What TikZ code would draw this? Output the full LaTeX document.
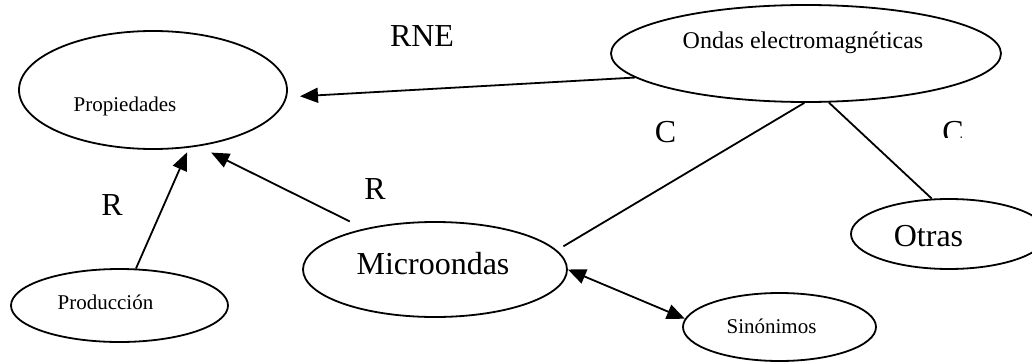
\documentclass[tikz,border=0pt]{standalone}
\usepackage{fontspec}
\setmainfont{Liberation Serif}
\usetikzlibrary{shapes.geometric}
\usetikzlibrary{arrows.meta}

\begin{document}
\begin{tikzpicture}[x=1pt, y=-1pt,
    concept/.style={ellipse, draw, line width=1.8pt, inner sep=0pt},
    small/.style={inner sep=0pt, font=\fontsize{21}{25}\selectfont},
    big/.style={inner sep=0pt, font=\fontsize{32}{38}\selectfont},
    link/.style={line width=1.8pt},
    toarrow/.style={link, -{Triangle[length=18pt, width=15pt]}},
    twoarrow/.style={link, {Triangle[length=18pt, width=15pt]}-{Triangle[length=18pt, width=15pt]}}
    ]

            \clip (0, 0) rectangle (1032, 361);

            %concepts
            \node[concept, minimum width=390pt, minimum height=97pt] (ondas) at (806, 53.5) {};
            \node[concept, minimum width=268pt, minimum height=118pt] (prop) at (153, 90) {};
            \node[concept, minimum width=217pt, minimum height=73pt] (prod) at (119.5, 305.5) {};
            \node[concept, minimum width=264pt, minimum height=95pt] (micro) at (435, 269.5) {};
            \node[concept, minimum width=196pt, minimum height=70pt] (otras) at (949, 234) {};
            \node[concept, minimum width=193pt, minimum height=68pt] (sin) at (779.5, 327) {};

            %concept texts
            \node[small, font=\fontsize{24}{28}\selectfont] (ondas_t) at (803, 43) {Ondas electromagnéticas};
            \node[small] (prop_t) at (125, 106.5) {Propiedades};
            \node[small] (prod_t) at (105.5, 302) {Producción};
            \node[big] (micro_t) at (433, 264) {Microondas};
            \node[big] (otras_t) at (928.5, 236) {Otras};
            \node[small] (sin_t) at (771.5, 326) {Sinónimos};

            %relation labels
            \foreach \nm/\px/\py/\txt in {rne/422/36/RNE, r1/112/205/R, r2/375/189/R, c1/665.5/132/C}{
                \node[big] (\nm) at (\px, \py) {\txt};
            };
            \begin{scope}
                \clip (930, 110) rectangle (990, 137);
                \node[big] (c2) at (953, 132.5) {C};
            \end{scope}

            %links
            \draw[toarrow, shorten >=13pt] (ondas.188) -- (prop.-3);
            \draw[toarrow, shorten >=5pt] (prod.66) -- (prop.-58);
            \draw[toarrow, shorten <=16pt, shorten >=14pt] (micro.150) -- (prop.-51.5);
            \draw[link, shorten >=7.6pt] (ondas.-92) -- (micro.9);
            \draw[link] (ondas.-65.5) -- (otras.116);
            \draw[twoarrow] (micro.east) -- (sin.175);
        \end{tikzpicture}
\end{document}
